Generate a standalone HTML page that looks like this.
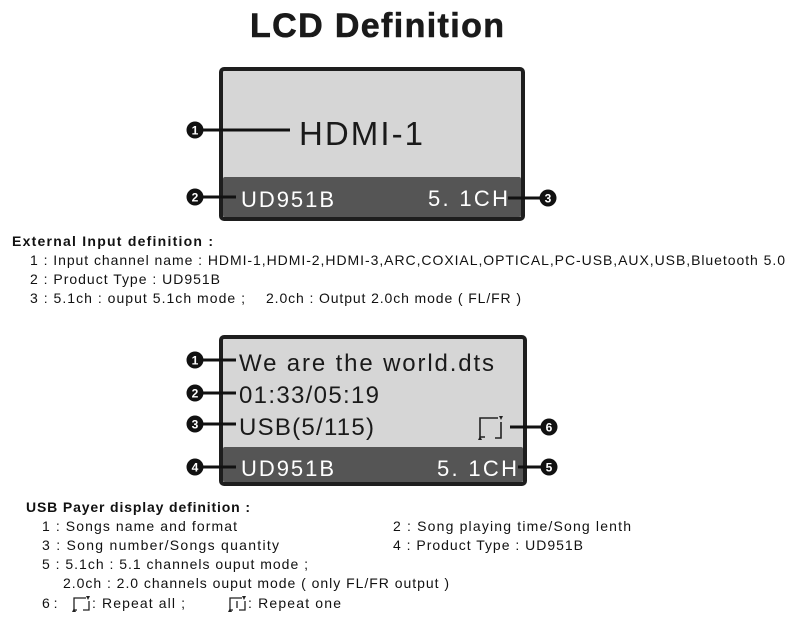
<!DOCTYPE html>
<html><head><meta charset="utf-8"><style>
body{margin:0;background:#fff;width:800px;height:630px;overflow:hidden}
svg{display:block}
text{font-family:"Liberation Sans",sans-serif}
.n{font-size:12px;font-weight:bold;fill:#fff;text-anchor:middle}
.d{font-size:14px;fill:#111}
</style></head><body>
<svg width="800" height="630" viewBox="0 0 800 630">
<text x="377" y="37" text-anchor="middle" font-size="34" font-weight="bold" fill="#1a1a1a" textLength="254" stroke="#1a1a1a" stroke-width="0.6">LCD Definition</text>

<!-- box 1 -->
<rect x="221" y="69" width="302" height="150" rx="3" fill="#d6d6d6" stroke="#1e1e1e" stroke-width="4"/>
<rect x="223" y="177" width="298" height="40" rx="2" fill="#555"/>
<text x="299" y="145" font-size="33" fill="#1a1a1a" textLength="124">HDMI-1</text>
<text x="241" y="207" font-size="22" fill="#fff" textLength="93">UD951B</text>
<text x="428" y="206" font-size="22" fill="#fff" textLength="80">5. 1CH</text>
<g stroke="#111" stroke-width="3">
<line x1="195" y1="130" x2="290" y2="130"/>
<line x1="195" y1="197" x2="236" y2="197"/>
<line x1="508" y1="198" x2="547" y2="198"/>
</g>
<g fill="#111"><circle cx="195" cy="130" r="8.5"/><circle cx="195" cy="197" r="8.5"/><circle cx="548" cy="198" r="8.5"/></g>
<text class="n" x="195" y="134.5">1</text><text class="n" x="195" y="201.5">2</text><text class="n" x="548" y="202.5">3</text>

<text x="12" y="246" font-size="14" font-weight="bold" fill="#111" textLength="201">External Input  definition :</text>
<text class="d" x="30" y="265" textLength="755">1 : Input channel name : HDMI-1,HDMI-2,HDMI-3,ARC,COXIAL,OPTICAL,PC-USB,AUX,USB,Bluetooth 5.0</text>
<text class="d" x="30" y="284" textLength="190">2 : Product Type : UD951B</text>
<text class="d" x="30" y="303" textLength="215">3 : 5.1ch : ouput 5.1ch mode ;</text>
<text class="d" x="266" y="303" textLength="255">2.0ch : Output 2.0ch mode ( FL/FR )</text>

<!-- box 2 -->
<rect x="221" y="337" width="304" height="147" rx="3" fill="#d6d6d6" stroke="#1e1e1e" stroke-width="4"/>
<rect x="223" y="447" width="300" height="35" rx="2" fill="#555"/>
<text x="239" y="371" font-size="24" fill="#1a1a1a" textLength="255">We are the world.dts</text>
<text x="239" y="403" font-size="24" fill="#1a1a1a" textLength="140">01:33/05:19</text>
<text x="239" y="435" font-size="24" fill="#1a1a1a" textLength="135">USB(5/115)</text>
<text x="241" y="476" font-size="22" fill="#fff" textLength="93">UD951B</text>
<text x="437" y="476" font-size="22" fill="#fff" textLength="80">5. 1CH</text>
<g fill="none" stroke="#222" stroke-width="1.6">
<path d="M485 437 L480 437 L480 418 L498 418"/><path d="M495 438 L501 438 L501 422"/>
</g>
<path d="M499 416 l2 4 l2 -4z M478 440 l2 -4 l2 4z" fill="#222"/>
<g stroke="#111" stroke-width="3">
<line x1="195" y1="360" x2="236" y2="360"/>
<line x1="195" y1="393" x2="236" y2="393"/>
<line x1="195" y1="424" x2="236" y2="424"/>
<line x1="195" y1="467" x2="236" y2="467"/>
<line x1="510" y1="427" x2="548" y2="427"/>
<line x1="518" y1="467" x2="548" y2="467"/>
</g>
<g fill="#111"><circle cx="195" cy="360" r="8.5"/><circle cx="195" cy="393" r="8.5"/><circle cx="195" cy="424" r="8.5"/><circle cx="195" cy="467" r="8.5"/><circle cx="549" cy="427" r="8.5"/><circle cx="549" cy="467" r="8.5"/></g>
<text class="n" x="195" y="364.5">1</text><text class="n" x="195" y="397.5">2</text><text class="n" x="195" y="428.5">3</text><text class="n" x="195" y="471.5">4</text><text class="n" x="549" y="431.5">6</text><text class="n" x="549" y="471.5">5</text>

<text x="26" y="512" font-size="14" font-weight="bold" fill="#111" textLength="224">USB Payer display definition :</text>
<text class="d" x="42" y="531" textLength="195">1 : Songs name and format</text>
<text class="d" x="393" y="531" textLength="238">2 : Song playing time/Song lenth</text>
<text class="d" x="42" y="550" textLength="237">3 : Song number/Songs quantity</text>
<text class="d" x="393" y="550" textLength="190">4 : Product Type : UD951B</text>
<text class="d" x="42" y="569" textLength="266">5 : 5.1ch : 5.1 channels ouput mode ;</text>
<text class="d" x="63" y="588" textLength="386">2.0ch : 2.0 channels ouput mode ( only FL/FR output )</text>
<text class="d" x="42" y="608">6 :</text>
<g fill="none" stroke="#222" stroke-width="1.3">
<path d="M77 610 L74 610 L74 598 L86 598"/><path d="M83 610 L89 610 L89 601"/>
<path d="M233 610 L230 610 L230 598 L242 598"/><path d="M239 610 L245 610 L245 601"/>
<line x1="237" y1="601" x2="237" y2="608"/>
</g>
<path d="M86 596 l2 4 l2 -4z M72 612 l2 -4 l2 4z M242 596 l2 4 l2 -4z M228 612 l2 -4 l2 4z" fill="#222"/>
<text class="d" x="92" y="608" textLength="93">: Repeat all ;</text>
<text class="d" x="248" y="608" textLength="93">: Repeat one</text>
</svg>
</body></html>
